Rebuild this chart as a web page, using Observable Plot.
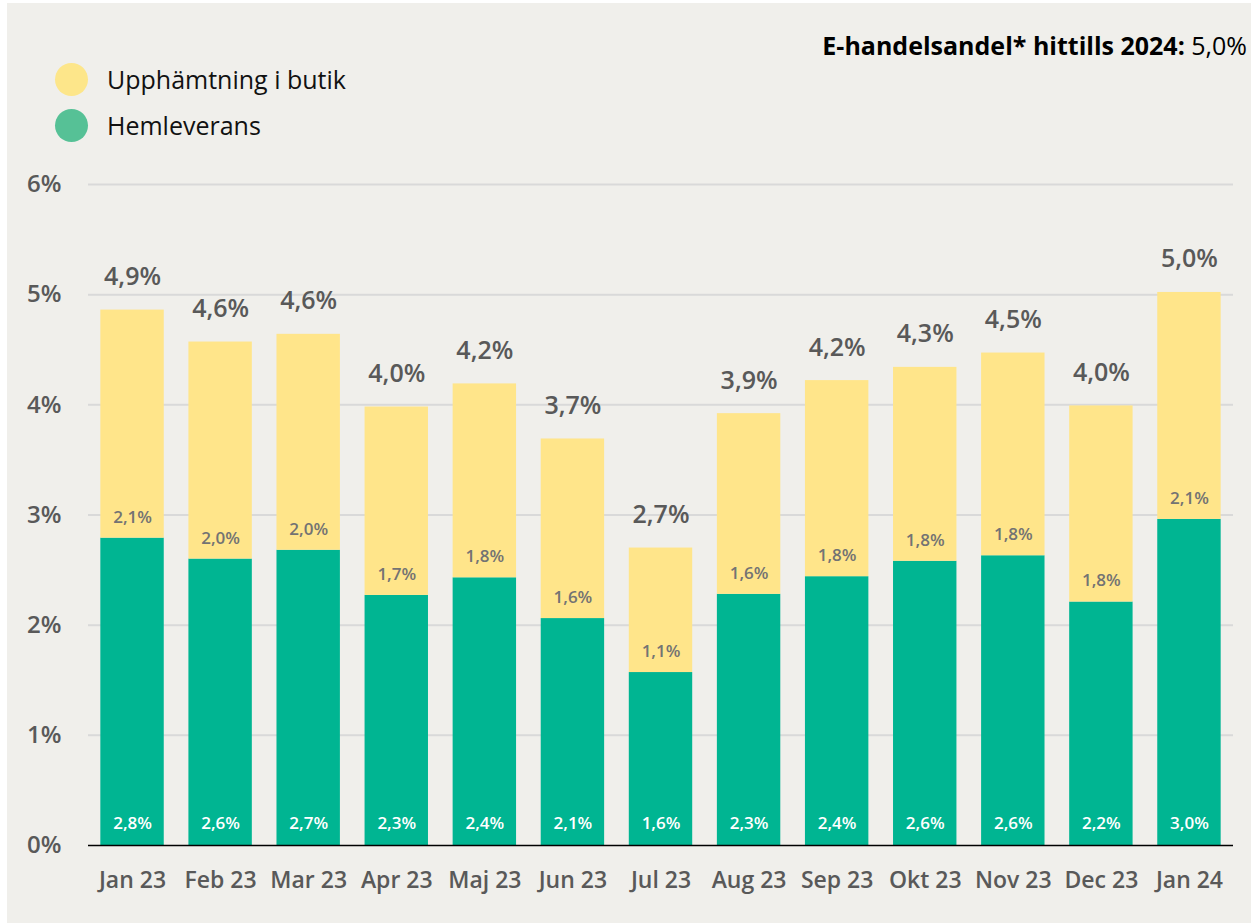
<!DOCTYPE html>
<html><head><meta charset="utf-8">
<script src="https://cdn.jsdelivr.net/npm/d3@7"></script>
<script src="https://cdn.jsdelivr.net/npm/@observablehq/plot@0.6"></script>
<style>
body{margin:0;background:#fff;}
#wrap{position:absolute;left:7px;top:3px;width:1244px;height:920px;background:#f0efeb;font-family:"Open Sans",sans-serif;overflow:hidden;}
#title{position:absolute;right:4px;top:25px;font-size:25px;color:#000;white-space:nowrap;}
#title b{font-weight:700;}
.leg{position:absolute;left:48px;font-size:25px;color:#111;display:flex;align-items:center;white-space:nowrap;}
.dot{width:33px;height:33px;border-radius:50%;margin-right:19px;}
#plot{position:absolute;left:-7px;top:147px;}
</style></head>
<body>
<div id="wrap">
  <div id="title"><b>E-handelsandel* hittills 2024:</b> 5,0%</div>
  <div class="leg" style="top:59px"><div class="dot" style="background:#fde68a"></div>Upphämtning i butik</div>
  <div class="leg" style="top:105px"><div class="dot" style="background:#56c196"></div>Hemleverans</div>
  <div id="plot"></div>
</div>
<script>
const months = ["Jan 23","Feb 23","Mar 23","Apr 23","Maj 23","Jun 23","Jul 23","Aug 23","Sep 23","Okt 23","Nov 23","Dec 23","Jan 24"];
const hemleverans = [2.79, 2.60, 2.68, 2.27, 2.43, 2.06, 1.57, 2.28, 2.44, 2.58, 2.63, 2.21, 2.96];
const upphamtning = [2.07, 1.97, 1.96, 1.71, 1.76, 1.63, 1.13, 1.64, 1.78, 1.76, 1.84, 1.78, 2.06];
const yTicks = [0, 1, 2, 3, 4, 5, 6];

const rows = months.map((m, i) => ({
  month: m,
  green: hemleverans[i],
  yellow: upphamtning[i],
  total: hemleverans[i] + upphamtning[i]
}));
const fmt = v => (Math.round(v * 10) / 10).toFixed(1).replace(".", ",") + "%";

const chart = Plot.plot({
  width: 1251,
  height: 773,
  marginTop: 34,
  marginBottom: 78,
  marginLeft: 88,
  marginRight: 18,
  style: {background: "transparent", fontFamily: "Open Sans, sans-serif"},
  x: {domain: months, paddingInner: 0.28, paddingOuter: 0.14, round: false, label: null, tickSize: 0, tickPadding: 26},
  y: {domain: [0, 6], ticks: yTicks, label: null, tickSize: 0, tickPadding: 27, tickFormat: d => d + "%"},
  marks: [
    Plot.ruleY(yTicks.filter(d => d > 0), {stroke: "#d9d9d9", strokeWidth: 2}),
    Plot.barY(rows, {x: "month", y1: 0, y2: "green", fill: "#00b592"}),
    Plot.barY(rows, {x: "month", y1: "green", y2: "total", fill: "#ffe58a"}),
    Plot.ruleY([0], {stroke: "#000", strokeWidth: 1.5}),
    Plot.text(rows, {x: "month", y: "total", text: d => fmt(d.total), dy: -33, fontSize: 25, fontWeight: 600, fill: "#595959"}),
    Plot.text(rows, {x: "month", y: "green", text: d => fmt(d.yellow), dy: -21, fontSize: 17, fontWeight: 600, fill: "#737373"}),
    Plot.text(rows, {x: "month", y: 0, text: d => fmt(d.green), dy: -22, fontSize: 17, fontWeight: 600, fill: "#fff"})
  ]
});
chart.querySelectorAll('g[aria-label="x-axis tick label"]').forEach(g => {
  g.setAttribute("font-size", "23");
  g.setAttribute("font-weight", "600");
  g.setAttribute("fill", "#595959");
});
chart.querySelectorAll('g[aria-label="y-axis tick label"]').forEach(g => {
  g.setAttribute("font-size", "24");
  g.setAttribute("font-weight", "600");
  g.setAttribute("fill", "#595959");
});
document.getElementById("plot").append(chart);
</script>
</body></html>
